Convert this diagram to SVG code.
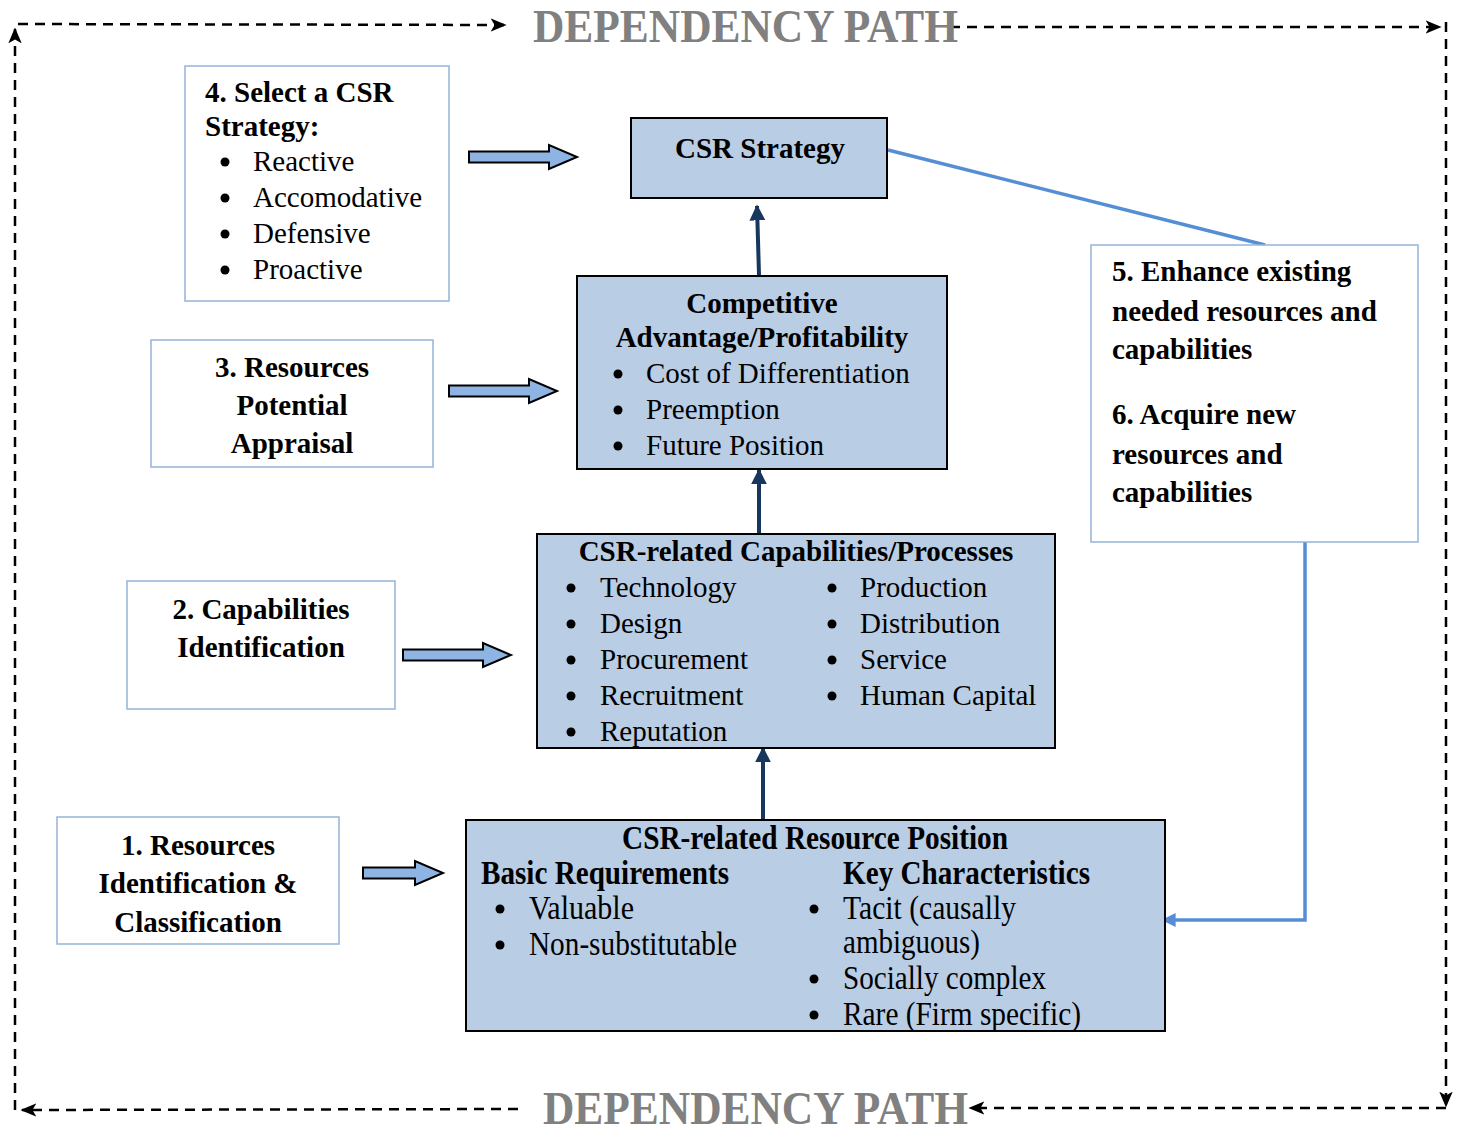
<svg xmlns="http://www.w3.org/2000/svg" width="1464" height="1129" viewBox="0 0 1464 1129">
  <defs>
    <style>
      text { font-family: "Liberation Serif", "Times New Roman", serif; fill: #000; }
      .t { font-size: 29px; }
      .b { font-size: 29px; font-weight: bold; }
      .c { text-anchor: middle; }
      .big { font-size: 33px; }
      .dep { font-size: 46px; font-weight: bold; fill: #808080; }
      .side { fill: #fff; stroke: #95b3d7; stroke-width: 1.5; }
      .core { fill: #b9cde5; stroke: #000; stroke-width: 2; }
      .block { fill: #8eb4e3; stroke: #000; stroke-width: 2; stroke-linejoin: miter; }
      .dash { fill: none; stroke: #000; stroke-width: 2.5; stroke-dasharray: 10 7; }
      .up { fill: none; stroke: #17375e; stroke-width: 4; }
      .blue { fill: none; stroke: #558ed5; stroke-width: 3.5; }
    </style>
    <marker id="dashHead" viewBox="0 0 10 10" refX="9" refY="5" markerWidth="16" markerHeight="16" markerUnits="userSpaceOnUse" orient="auto">
      <path d="M0,0.8 L10,5 L0,9.2 L2.5,5 Z" fill="#000"/>
    </marker>
    <marker id="navyHead" viewBox="0 0 10 10" refX="9" refY="5" markerWidth="16" markerHeight="16" markerUnits="userSpaceOnUse" orient="auto">
      <path d="M0,0 L10,5 L0,10 Z" fill="#17375e"/>
    </marker>
    <marker id="blueHead" viewBox="0 0 10 10" refX="9" refY="5" markerWidth="14" markerHeight="14" markerUnits="userSpaceOnUse" orient="auto">
      <path d="M0,0 L10,5 L0,10 Z" fill="#558ed5"/>
    </marker>
    <circle id="dot" r="4.5" fill="#000"/>
  </defs>

  <rect width="1464" height="1129" fill="#fff"/>

  <!-- dependency path frame -->
  <g id="dependency-path">
    <path class="dash" d="M18,24 L505,25" marker-end="url(#dashHead)"/>
    <path class="dash" d="M950,27 L1440,27" marker-end="url(#dashHead)"/>
    <path class="dash" d="M1446,22 L1446,1106" marker-end="url(#dashHead)"/>
    <path class="dash" d="M1446,1108 L970,1108" marker-end="url(#dashHead)"/>
    <path class="dash" d="M518,1109 L22,1110" marker-end="url(#dashHead)"/>
    <path class="dash" d="M15,1110 L15,29" marker-end="url(#dashHead)"/>
    <text class="dep" x="533" y="42" textLength="425" lengthAdjust="spacingAndGlyphs">DEPENDENCY PATH</text>
    <text class="dep" x="543" y="1124" textLength="425" lengthAdjust="spacingAndGlyphs">DEPENDENCY PATH</text>
  </g>

  <!-- connectors -->
  <g id="connectors">
    <!-- hollow step arrows -->
    <path class="block" d="M469,151.5 H549 V145 L577,157 L549,169 V162.5 H469 Z"/>
    <path class="block" d="M449,385.5 H529 V379 L557,391 L529,403 V396.5 H449 Z"/>
    <path class="block" d="M403,649.5 H483 V643 L511,655 L483,667 V660.5 H403 Z"/>
    <path class="block" d="M363,867.5 H415 V861 L443,873 L415,885 V878.5 H363 Z"/>
    <!-- upward flow -->
    <path class="up" d="M759,275 L757,206" marker-end="url(#navyHead)"/>
    <path class="up" d="M759,533 L759,470" marker-end="url(#navyHead)"/>
    <path class="up" d="M763,819 L763,748" marker-end="url(#navyHead)"/>
    <!-- feedback links -->
    <path class="blue" d="M888,150 L1265,245"/>
    <path class="blue" d="M1305,542 V920 H1163" marker-end="url(#blueHead)"/>
  </g>

  <g id="step4">
    <rect class="side" x="185" y="66" width="264" height="235"/>
    <text class="b" x="205" y="102">4. Select a CSR</text>
    <text class="b" x="205" y="136">Strategy:</text>
    <use href="#dot" x="225" y="162"/><text class="t" x="253" y="171">Reactive</text>
    <use href="#dot" x="225" y="198"/><text class="t" x="253" y="207">Accomodative</text>
    <use href="#dot" x="225" y="234"/><text class="t" x="253" y="243">Defensive</text>
    <use href="#dot" x="225" y="270"/><text class="t" x="253" y="279">Proactive</text>
  </g>

  <g id="csr-strategy">
    <rect class="core" x="631" y="118" width="256" height="80"/>
    <text class="b c" x="760" y="158">CSR Strategy</text>
  </g>

  <g id="steps-5-6">
    <rect class="side" x="1091" y="245" width="327" height="297"/>
    <text class="b" x="1112" y="281">5. Enhance existing</text>
    <text class="b" x="1112" y="321">needed resources and</text>
    <text class="b" x="1112" y="359">capabilities</text>
    <text class="b" x="1112" y="424">6. Acquire new</text>
    <text class="b" x="1112" y="464">resources and</text>
    <text class="b" x="1112" y="502">capabilities</text>
  </g>

  <g id="step3">
    <rect class="side" x="151" y="340" width="282" height="127"/>
    <text class="b c" x="292" y="377">3. Resources</text>
    <text class="b c" x="292" y="415">Potential</text>
    <text class="b c" x="292" y="453">Appraisal</text>
  </g>

  <g id="competitive-advantage">
    <rect class="core" x="577" y="276" width="370" height="193"/>
    <text class="b c" x="762" y="313">Competitive</text>
    <text class="b c" x="762" y="347">Advantage/Profitability</text>
    <use href="#dot" x="618" y="374"/><text class="t" x="646" y="383">Cost of Differentiation</text>
    <use href="#dot" x="618" y="410"/><text class="t" x="646" y="419">Preemption</text>
    <use href="#dot" x="618" y="446"/><text class="t" x="646" y="455">Future Position</text>
  </g>

  <g id="step2">
    <rect class="side" x="127" y="581" width="268" height="128"/>
    <text class="b c" x="261" y="619">2. Capabilities</text>
    <text class="b c" x="261" y="657">Identification</text>
  </g>

  <g id="capabilities">
    <rect class="core" x="537" y="534" width="518" height="214"/>
    <text class="b c" x="796" y="561">CSR-related Capabilities/Processes</text>
    <use href="#dot" x="571" y="588"/><text class="t" x="600" y="597">Technology</text>
    <use href="#dot" x="571" y="624"/><text class="t" x="600" y="633">Design</text>
    <use href="#dot" x="571" y="660"/><text class="t" x="600" y="669">Procurement</text>
    <use href="#dot" x="571" y="696"/><text class="t" x="600" y="705">Recruitment</text>
    <use href="#dot" x="571" y="732"/><text class="t" x="600" y="741">Reputation</text>
    <use href="#dot" x="832" y="588"/><text class="t" x="860" y="597">Production</text>
    <use href="#dot" x="832" y="624"/><text class="t" x="860" y="633">Distribution</text>
    <use href="#dot" x="832" y="660"/><text class="t" x="860" y="669">Service</text>
    <use href="#dot" x="832" y="696"/><text class="t" x="860" y="705">Human Capital</text>
  </g>

  <g id="step1">
    <rect class="side" x="57" y="817" width="282" height="127"/>
    <text class="b c" x="198" y="855">1. Resources</text>
    <text class="b c" x="198" y="893">Identification &amp;</text>
    <text class="b c" x="198" y="932">Classification</text>
  </g>

  <g id="resource-position">
    <rect class="core" x="466" y="820" width="699" height="211"/>
    <text class="big" style="font-weight:bold" x="622" y="849" textLength="386" lengthAdjust="spacingAndGlyphs">CSR-related Resource Position</text>
    <text class="big" style="font-weight:bold" x="481" y="884" textLength="248" lengthAdjust="spacingAndGlyphs">Basic Requirements</text>
    <text class="big" style="font-weight:bold" x="843" y="884" textLength="247" lengthAdjust="spacingAndGlyphs">Key Characteristics</text>
    <use href="#dot" x="500" y="909"/><text class="big" x="529" y="919" textLength="105" lengthAdjust="spacingAndGlyphs">Valuable</text>
    <use href="#dot" x="500" y="945"/><text class="big" x="529" y="955" textLength="208" lengthAdjust="spacingAndGlyphs">Non-substitutable</text>
    <use href="#dot" x="814" y="909"/><text class="big" x="843" y="919" textLength="173" lengthAdjust="spacingAndGlyphs">Tacit (causally</text>
    <text class="big" x="843" y="953" textLength="137" lengthAdjust="spacingAndGlyphs">ambiguous)</text>
    <use href="#dot" x="814" y="979"/><text class="big" x="843" y="989" textLength="203" lengthAdjust="spacingAndGlyphs">Socially complex</text>
    <use href="#dot" x="814" y="1015"/><text class="big" x="843" y="1025" textLength="238" lengthAdjust="spacingAndGlyphs">Rare (Firm specific)</text>
  </g>
</svg>
